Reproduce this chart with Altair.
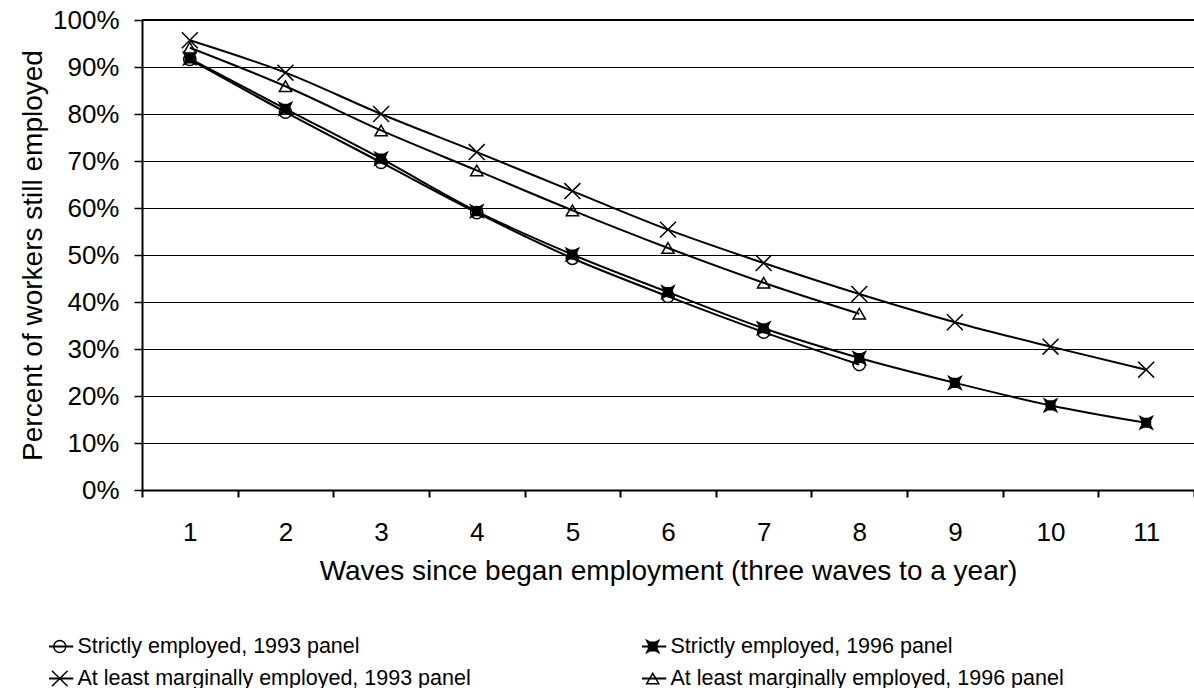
import altair as alt
import pandas as pd

waves = list(range(1, 12))
series_names = [
    "Strictly employed, 1993 panel",
    "Strictly employed, 1996 panel",
    "At least marginally employed, 1993 panel",
    "At least marginally employed, 1996 panel",
]
strict_1993 = [91.6, 80.4, 69.7, 59.0, 49.3, 41.2, 33.6, 26.7]
strict_1996 = [91.8, 81.1, 70.5, 59.3, 50.1, 42.1, 34.4, 28.1, 22.8, 18.0, 14.3]
marg_1993 = [95.7, 88.8, 80.0, 71.9, 63.6, 55.4, 48.3, 41.7, 35.7, 30.5, 25.6]
marg_1996 = [94.1, 85.9, 76.5, 68.0, 59.5, 51.5, 44.1, 37.5]
y_ticks = [0, 10, 20, 30, 40, 50, 60, 70, 80, 90, 100]

rows = []
for name, vals in zip(series_names, [strict_1993, strict_1996, marg_1993, marg_1996]):
    for w, v in zip(waves, vals):
        rows.append({"wave": w, "value": v / 100.0, "series": name,
                     "series_l": name, "series_f": name})
df = pd.DataFrame(rows)

FONT = "Liberation Sans"
X_PATH = "M-1.3,-1.3L1.3,1.3M-1.3,1.3L1.3,-1.3"
STAR_SQ = "M-1,-1L-0.4,-0.7L0.4,-0.7L1,-1L0.7,-0.4L0.7,0.4L1,1L0.4,0.7L-0.4,0.7L-1,1L-0.7,0.4L-0.7,-0.4Z"
SEG = "M-2.25,0L2.25,0"
shapes = ["circle", STAR_SQ, X_PATH, "triangle-up"]
fills = ["transparent", "black", "transparent", "transparent"]

x_enc = alt.X(
    "wave:O",
    scale=alt.Scale(type="band", paddingInner=0, paddingOuter=0),
    axis=alt.Axis(
        title="Waves since began employment (three waves to a year)",
        labelAngle=0, tickBand="extent", tickSize=7, labelPadding=22,
        titlePadding=12, domainWidth=2, tickWidth=2, grid=False,
    ),
)
y_enc = alt.Y(
    "value:Q",
    scale=alt.Scale(domain=[0, 1]),
    axis=alt.Axis(
        title="Percent of workers still employed",
        format=".0%", values=[t / 100 for t in y_ticks], tickSize=8,
        labelPadding=15, titlePadding=5, domainWidth=2, tickWidth=1.5,
        grid=True, gridColor="black", gridWidth=1, gridOpacity=1,
    ),
)

leg_common = dict(
    orient="none", direction="horizontal", columns=2, title=None, clipHeight=21,
    rowPadding=10, columnPadding=171, labelLimit=1000, padding=0,
    legendX=-93, legendY=616, symbolSize=144, labelOffset=7,
)

lines = alt.Chart(df).mark_line(strokeWidth=2, interpolate="monotone").encode(
    x=x_enc, y=y_enc,
    color=alt.Color(
        "series_l:N",
        scale=alt.Scale(domain=series_names, range=["black"] * 4),
        legend=alt.Legend(
            symbolType=SEG, symbolStrokeWidth=2, symbolStrokeColor="black",
            symbolFillColor="transparent", **leg_common,
        ),
    ),
)

points = alt.Chart(df).mark_point(stroke="black", strokeWidth=1.5, opacity=1, size=150).encode(
    x=x_enc, y=y_enc,
    shape=alt.Shape(
        "series:N", scale=alt.Scale(domain=series_names, range=shapes),
        legend=alt.Legend(
            symbolStrokeWidth=1.5, symbolStrokeColor="black",
            symbolFillColor="transparent", labelOpacity=0, **leg_common,
        ),
    ),
    fill=alt.Fill(
        "series_f:N", scale=alt.Scale(domain=series_names, range=fills),
        legend=alt.Legend(
            symbolType=STAR_SQ, symbolStrokeWidth=0, symbolStrokeColor="transparent",
            labelOpacity=0, **leg_common,
        ),
    ),
)

top = alt.Chart(pd.DataFrame({"v": [1.0]})).mark_rule(color="black", strokeWidth=2).encode(y="v:Q")

chart = alt.layer(lines, points, top).resolve_legend(
    color="independent", shape="independent", fill="independent"
).properties(
    width=1052, height=470,
    autosize=alt.AutoSizeParams(type="none"),
    padding={"left": 142, "top": 20, "right": 0, "bottom": 198},
).configure_view(stroke=None).configure_axis(
    labelFont=FONT, titleFont=FONT, labelFontSize=26, titleFontSize=28,
    labelColor="black", titleColor="black", titleFontWeight="normal",
    domainColor="black", tickColor="black",
).configure_legend(
    labelFont=FONT, labelFontSize=21.5, labelColor="black",
)

chart.save("out.html", embed_options={"renderer": "svg", "actions": False})
